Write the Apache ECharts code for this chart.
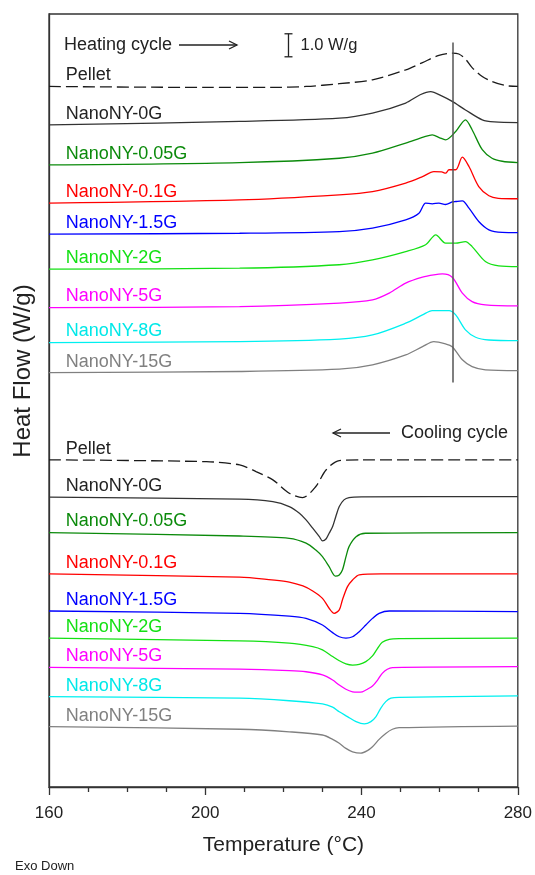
<!DOCTYPE html>
<html>
<head>
<meta charset="utf-8">
<script src="https://cdn.jsdelivr.net/npm/echarts@6/dist/echarts.min.js"></script>
<style>
  html, body { margin: 0; padding: 0; background: #fff; }
  #main { width: 535px; height: 875px; }
</style>
</head>
<body>
<div id="main"></div>
<script>
// DSC traces, [temperature (°C), heat flow (W/g) incl. stacking offset]
// heating scans
const heatPellet = [[160,30.45],[200,30.41],[217.3,30.41],[225.8,30.45],[234.3,30.57],[242.8,30.74],[251.3,31.17],[255.6,31.49],[259.8,31.80],[263.2,31.90],[264.9,31.86],[266.6,31.64],[268.3,31.27],[270.9,30.88],[273.4,30.67],[276.8,30.49],[280,30.45]]
const heat0G = [[160,28.78],[208.8,28.93],[234.3,29.07],[242.8,29.29],[251.3,29.73],[255,30.09],[257.7,30.23],[260.5,30.04],[263.2,29.80],[266.6,29.43],[270.9,29.00],[274,28.91],[280,28.88]]
const heat005G = [[160,27.04],[208.8,27.14],[234.3,27.33],[242.8,27.55],[251.3,27.99],[256,28.26],[258.1,28.35],[260,28.22],[261.5,28.13],[264.1,28.49],[266.6,29.00],[268.3,28.57],[270.9,27.70],[273.4,27.33],[276,27.20],[280,27.14]]
const heat01G = [[160,25.38],[208.8,25.52],[234.3,25.74],[242.8,25.88],[251.3,26.25],[255.6,26.53],[258.5,26.75],[260.5,26.74],[261.5,26.68],[262.4,26.83],[264.1,26.83],[265.8,27.38],[267.5,26.97],[270,26.10],[272.6,25.70],[275,25.59],[280,25.57]]
const heat15G = [[160,24.03],[208.8,24.07],[234.3,24.14],[242.8,24.29],[251.3,24.65],[254.7,24.94],[256.4,25.38],[258.1,25.35],[259.8,25.38],[261.5,25.32],[263.2,25.43],[264.1,25.45],[265.8,25.48],[267.5,25.16],[270,24.58],[272.6,24.22],[276,24.11],[280,24.10]]
const heat2G = [[160,22.51],[208.8,22.55],[234.3,22.70],[242.8,22.91],[251.3,23.27],[256.4,23.57],[259,24.00],[261.5,23.64],[264.1,23.64],[266.6,23.71],[268.3,23.49],[271.7,22.84],[275.1,22.65],[280,22.62]]
const heat5G = [[160,20.84],[208.8,20.88],[234.3,21.03],[242.8,21.17],[247.1,21.47],[251.3,21.90],[255.6,22.16],[258.5,22.26],[260.7,22.30],[263.2,22.16],[265.8,21.47],[268.3,21.10],[271.7,20.96],[280,20.91]]
const heat8G = [[160,19.32],[208.8,19.36],[234.3,19.47],[242.8,19.65],[251.3,20.16],[255.6,20.52],[258.1,20.71],[262.4,20.71],[264.1,20.52],[266.6,19.87],[269.2,19.55],[272.6,19.43],[280,19.40]]
const heat15Gr = [[160,18.01],[208.8,18.06],[234.3,18.16],[242.8,18.35],[251.3,18.78],[255.6,19.14],[258.5,19.36],[261.5,19.26],[263.2,19.14],[265.8,18.57],[268.3,18.27],[271.7,18.13],[280,18.10]]
// cooling scans
const coolPellet = [[160,14.22],[200.3,14.14],[208.8,14.00],[213,13.71],[217.3,13.35],[221.5,12.77],[224.9,12.58],[228.3,13.06],[230.9,13.78],[234.3,14.19],[240,14.22],[280,14.22]]
const cool0G = [[160,12.60],[208.8,12.51],[217.3,12.40],[221.5,12.19],[224.1,11.90],[225.8,11.61],[227.5,11.25],[229.2,10.88],[230,10.70],[230.9,10.78],[231.7,11.03],[232.6,11.32],[233.4,11.75],[234.3,12.19],[235.5,12.48],[236.8,12.58],[240,12.61],[280,12.62]]
const cool005G = [[160,11.06],[208.8,10.91],[221.5,10.81],[225.8,10.60],[228.3,10.30],[230,10.01],[231.7,9.58],[233.3,9.17],[234.3,9.22],[235.1,9.43],[236,10.00],[236.8,10.45],[238.6,10.88],[241,11.03],[280,11.06]]
const cool01G = [[160,9.26],[208.8,9.12],[217,9.00],[221.5,8.91],[225,8.74],[227.5,8.52],[230,8.20],[231.7,7.77],[233,7.55],[234.3,7.70],[235.1,8.13],[236.4,8.71],[237.7,9.00],[239.4,9.22],[245,9.26],[280,9.26]]
const cool15G = [[160,7.65],[208.8,7.55],[221.5,7.43],[225.8,7.33],[230,7.04],[232.6,6.71],[234.3,6.53],[236,6.47],[237.7,6.53],[239.4,6.75],[241.1,7.04],[242.8,7.33],[244.5,7.55],[247.1,7.65],[280,7.62]]
const cool2G = [[160,6.47],[208.8,6.35],[221.5,6.25],[227.5,6.10],[230,5.96],[232.6,5.67],[234.3,5.49],[236,5.35],[237.7,5.30],[239.4,5.33],[241.1,5.45],[242.8,5.70],[244.1,6.03],[245.3,6.29],[247.1,6.42],[249.6,6.45],[280,6.47]]
const cool5G = [[160,5.20],[208.8,5.12],[221.5,5.06],[225.8,5.01],[230,4.87],[232.6,4.65],[234.3,4.43],[236,4.25],[237.7,4.14],[239,4.12],[240.2,4.14],[241.5,4.25],[242.8,4.39],[244.1,4.65],[245.3,4.94],[246.6,5.12],[247.9,5.19],[280,5.23]]
const cool8G = [[160,3.93],[208.8,3.86],[221.5,3.75],[230,3.61],[232.6,3.47],[234.3,3.27],[236.4,3.06],[238.6,2.84],[240.7,2.74],[242.4,2.84],[243.7,3.06],[244.9,3.42],[246.2,3.71],[247.5,3.86],[249.6,3.90],[280,3.96]]
const cool15Gr = [[160,2.62],[208.8,2.51],[221.5,2.40],[230,2.26],[232.6,2.07],[234.3,1.90],[236,1.68],[237.7,1.53],[239.8,1.47],[241.5,1.58],[242.8,1.75],[244.5,2.07],[246.2,2.33],[247.9,2.51],[249.6,2.58],[280,2.65]]

const sampleNames = ['Pellet','NanoNY-0G','NanoNY-0.05G','NanoNY-0.1G','NanoNY-1.5G','NanoNY-2G','NanoNY-5G','NanoNY-8G','NanoNY-15G']
const heatingData = [heatPellet, heat0G, heat005G, heat01G, heat15G, heat2G, heat5G, heat8G, heat15Gr]
const coolingData = [coolPellet, cool0G, cool005G, cool01G, cool15G, cool2G, cool5G, cool8G, cool15Gr]
const xTicks = [160, 200, 240, 280]
const meltLineT = 263.3          // vertical reference line
const meltLineRange = [17.58, 32.36]
const scaleBar = [221.3, 31.74, 1.0]   // x, start, length in W/g

const colors = ['#1a1a1a','#333333','#0b8a0b','#ff0000','#0000ff','#14e014','#ff00ff','#00f0f0','#808080']
const labelColors = ['#222','#222','#0b8a0b','#ff0000','#0000ff','#14e014','#ff00ff','#00e8e8','#808080']
const FONT = '"Liberation Sans", Arial, Helvetica, sans-serif'
const labelT = 164.3, labelLift = 0.48

const chart = echarts.init(document.getElementById('main'), null, { renderer: 'canvas' })

function makeSeries (data, i, cycle) {
  return {
    name: sampleNames[i] + ' ' + cycle,
    type: 'line',
    data: data,
    smooth: 0.3,
    showSymbol: false,
    symbol: 'none',
    silent: true,
    animation: false,
    lineStyle: {
      color: colors[i],
      width: 1.3,
      type: i === 0 ? [12, 5] : 'solid'
    },
    markPoint: {
      symbol: 'circle',
      symbolSize: 0,
      silent: true,
      animation: false,
      data: [{
        coord: [labelT, data[0][1] + labelLift],
        label: {
          show: true,
          position: 'right',
          distance: 0,
          formatter: sampleNames[i],
          color: labelColors[i],
          fontSize: 18,
          fontFamily: FONT
        }
      }]
    }
  }
}

const series = []
heatingData.forEach((d, i) => series.push(makeSeries(d, i, 'heating')))
coolingData.forEach((d, i) => series.push(makeSeries(d, i, 'cooling')))

// vertical reference line through the heating peaks
series[8].markLine = {
  silent: true,
  symbol: 'none',
  animation: false,
  label: { show: false },
  lineStyle: { color: '#555', width: 1.5, type: 'solid' },
  data: [[{ coord: [meltLineT, meltLineRange[0]] }, { coord: [meltLineT, meltLineRange[1]] }]]
}

const option = {
  animation: false,
  grid: {
    left: 49, right: 16, top: 14, bottom: 88,
    show: true, borderColor: '#333', borderWidth: 1.3
  },
  xAxis: {
    type: 'value',
    min: 160, max: 280, interval: 40,
    name: 'Temperature (°C)',
    nameLocation: 'middle',
    nameGap: 48,
    nameTextStyle: { fontSize: 21, color: '#222', fontFamily: FONT },
    axisLine: { show: true, lineStyle: { color: '#333', width: 1.3 } },
    axisTick: { show: true, inside: false, length: 8, lineStyle: { color: '#333', width: 1.3 } },
    minorTick: { show: true, splitNumber: 4, length: 5, lineStyle: { color: '#333', width: 1.3 } },
    axisLabel: {
      margin: 18, fontSize: 17, color: '#222', fontFamily: FONT,
      formatter: v => xTicks.includes(v) ? String(v) : ''
    },
    splitLine: { show: false }
  },
  yAxis: {
    type: 'value',
    min: 0, max: 33.6,
    axisLine: { show: true, lineStyle: { color: '#333', width: 1.3 } },
    axisTick: { show: false },
    axisLabel: { show: false },
    splitLine: { show: false }
  },
  series: series
}
chart.setOption(option)

// annotations
const p1 = chart.convertToPixel({ gridIndex: 0 }, [scaleBar[0], scaleBar[1]])
const p2 = chart.convertToPixel({ gridIndex: 0 }, [scaleBar[0], scaleBar[1] + scaleBar[2]])
const ink = { stroke: '#222', lineWidth: 1.3 }
chart.setOption({
  graphic: [
    { type: 'text', left: 15, top: 860, style: { text: 'Exo Down', fontSize: 13, fill: '#222', fontFamily: FONT } },
    { type: 'text', x: 23, y: 371, rotation: Math.PI / 2,
      style: { text: 'Heat Flow (W/g)', fontSize: 24, fill: '#222', fontFamily: FONT, align: 'center', verticalAlign: 'middle' } },
    { type: 'text', x: 64, y: 45, style: { text: 'Heating cycle', fontSize: 18, fill: '#222', fontFamily: FONT, verticalAlign: 'middle' } },
    { type: 'line', shape: { x1: 179, y1: 45, x2: 237, y2: 45 }, style: ink },
    { type: 'polyline', shape: { points: [[229, 41], [237, 45], [229, 49]] }, style: Object.assign({ fill: null }, ink) },
    { type: 'text', x: 508, y: 433, style: { text: 'Cooling cycle', fontSize: 18, fill: '#222', fontFamily: FONT, align: 'right', verticalAlign: 'middle' } },
    { type: 'line', shape: { x1: 390, y1: 433, x2: 333, y2: 433 }, style: ink },
    { type: 'polyline', shape: { points: [[341, 429], [333, 433], [341, 437]] }, style: Object.assign({ fill: null }, ink) },
    // 1.0 W/g scale bar
    { type: 'line', shape: { x1: p1[0], y1: p1[1], x2: p2[0], y2: p2[1] }, style: ink },
    { type: 'line', shape: { x1: p1[0] - 4, y1: p1[1], x2: p1[0] + 4, y2: p1[1] }, style: ink },
    { type: 'line', shape: { x1: p2[0] - 4, y1: p2[1], x2: p2[0] + 4, y2: p2[1] }, style: ink },
    { type: 'text', x: p1[0] + 12, y: (p1[1] + p2[1]) / 2, style: { text: '1.0 W/g', fontSize: 16.5, fill: '#222', fontFamily: FONT, verticalAlign: 'middle' } }
  ]
})
</script>
</body>
</html>
